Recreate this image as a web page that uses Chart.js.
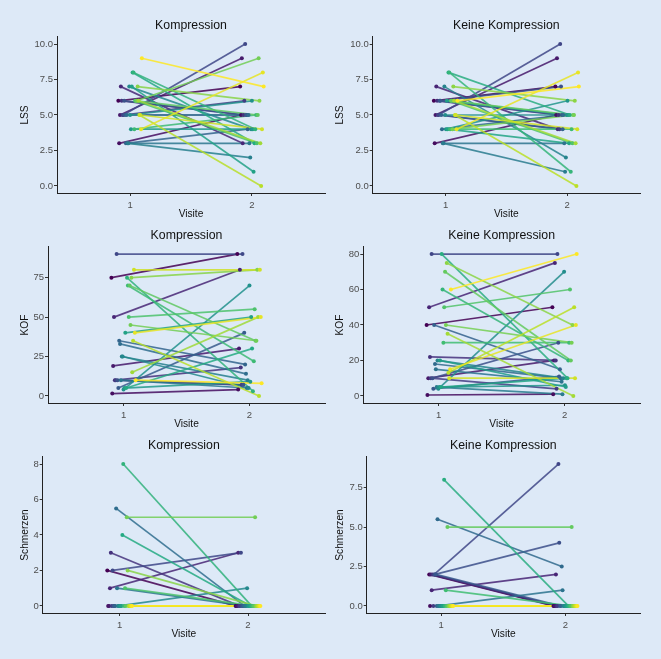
<!DOCTYPE html>
<html>
<head>
<meta charset="utf-8">
<script src="https://cdn.jsdelivr.net/npm/chart.js@4.4.1/dist/chart.umd.min.js"></script>
<style>
  html, body { margin: 0; padding: 0; background: #dde9f7; }
  #wrap { position: relative; width: 661px; height: 659px; overflow: hidden; }
  canvas { position: absolute; }
</style>
</head>
<body>
<div id="wrap">
  <canvas id="c1" width="330" height="220" style="left:0;top:0"></canvas>
  <canvas id="c2" width="331" height="220" style="left:330px;top:0"></canvas>
  <canvas id="c3" width="330" height="220" style="left:0;top:210px"></canvas>
  <canvas id="c4" width="331" height="220" style="left:330px;top:210px"></canvas>
  <canvas id="c5" width="330" height="220" style="left:0;top:420px"></canvas>
  <canvas id="c6" width="331" height="220" style="left:330px;top:420px"></canvas>
</div>
<script>
// visits on the x axis
var visits = [1, 2];

// one entry per patient, ordered by patient id (colour / dodge order)
// Kompression group
var kompLSS1 = [6, 3, 5, 7, 6, 5, 5, 6, 5, 3, 5, 3, 3, 7, 5, 4, 7, 8, 8, 4, 6, 6, 6, 7, 6, 5, 5, 4, 9];
var kompLSS2 = [7, 5, 9, 3, 5, 6, 10, 5, 5, 4, 5, 3, 2, 4, 6, 4, 1, 3, 4, 5, 3, 5, 9, 6, 3, 0, 4, 8, 7];
var kompKOF1 = [75, 1.5, 19, 50, 10, 10, 90, 10, 5, 35, 33, 10, 25, 25, 4, 5, 40, 5, 75, 70, 50, 70, 45, 75, 15, 35, 80, 40, 10];
var kompKOF2 = [90, 4, 30, 80, 18, 7, 90, 7, 40, 20, 14, 5, 10, 5, 70, 9, 50, 30, 3, 22, 55, 35, 35, 80, 50, 0, 80, 50, 8];
var kompSchm1 = [2, 0, 0, 1, 3, 0, 2, 0, 0, 0, 5.5, 1, 0, 0, 0, 0, 0, 4, 8, 0, 1, 0, 5, 2, 0, 0, 0, 0, 0];
var kompSchm2 = [0, 0, 0, 3, 0, 0, 3, 0, 0, 0, 0, 0, 0, 1, 0, 0, 0, 0, 0, 0, 0, 0, 5, 0, 0, 0, 0, 0, 0];

// Keine Kompression group
var keineLSS1 = [6, 3, 5, 7, 6, 5, 5, 6, 6, 5, 4, 3, 3, 7, 5, 4, 6, 4, 8, 8, 4, 6, 6, 4, 7, 6, 5, 5, 4, 6];
var keineLSS2 = [7, 5, 9, 4, 5, 4, 10, 7, 5, 4, 5, 3, 1, 2, 5, 6, 5, 3, 5, 1, 4, 3, 5, 5, 6, 3, 0, 4, 8, 7];
var keineKOF1 = [40, 0.5, 10, 50, 22, 10, 80, 10, 4, 40, 18, 15, 5, 20, 4, 5, 20, 5, 80, 60, 30, 50, 70, 40, 75, 35, 13, 10, 15, 60];
var keineKOF2 = [50, 1, 20, 75, 20, 4, 80, 30, 11, 15, 10, 8, 1, 10, 70, 6, 5, 10, 10, 20, 30, 60, 20, 30, 40, 0, 50, 10, 40, 80];
var keineSchm1 = [2, 0, 2, 1, 2, 0, 2, 2, 2, 0, 5.5, 0, 0, 0, 0, 0, 0, 0, 8, 0, 1, 0, 5, 0, 0, 0, 0, 0, 0, 0];
var keineSchm2 = [0, 0, 0, 2, 0, 0, 9, 4, 0, 0, 2.5, 1, 0, 0, 0, 0, 0, 0, 0, 0, 0, 0, 5, 0, 0, 0, 0, 0, 0, 0];

// tick labels
var lssTicks = [0, 2.5, 5, 7.5, 10];
var kofTicksK = [0, 25, 50, 75];
var kofTicksN = [0, 20, 40, 60, 80];
var schmTicksK = [0, 2, 4, 6, 8];
var schmTicksN = [0, 2.5, 5, 7.5];

var viridisStops = ["#440154", "#482475", "#414487", "#355f8d", "#2a788e", "#21918c",
  "#22a884", "#44bf70", "#7ad151", "#bddf26", "#fde725"];

function hexRgb(h) {
  return [parseInt(h.substr(1, 2), 16), parseInt(h.substr(3, 2), 16), parseInt(h.substr(5, 2), 16)];
}
function viridis(t, alpha) {
  var s = t * 10, k = Math.min(9, Math.floor(s)), f = s - k;
  var a = hexRgb(viridisStops[k]), b = hexRgb(viridisStops[k + 1]);
  var c = a.map(function(v, j) { return Math.round(v + (b[j] - v) * f); });
  return "rgba(" + c[0] + "," + c[1] + "," + c[2] + "," + alpha + ")";
}
// ggplot-like position_dodge, width 0.2
function dodge(i, n) {
  return (i + 0.5) / n * 0.2 - 0.1;
}

Chart.defaults.font.family = "'Liberation Sans', Arial, sans-serif";
Chart.defaults.animation = false;

var panels = [
  { id: "c1", title: "Kompression", yTitle: "LSS", v1: kompLSS1, v2: kompLSS2, yMin: -0.5, yMax: 10.5, yTicks: lssTicks, dec: 1, axisW: 57, yTitlePad: 18.9, padRight: 5 },
  { id: "c2", title: "Keine Kompression", yTitle: "LSS", v1: keineLSS1, v2: keineLSS2, yMin: -0.5, yMax: 10.5, yTicks: lssTicks, dec: 1, axisW: 42.7, yTitlePad: 4.2, padRight: 21 },
  { id: "c3", title: "Kompression", yTitle: "KOF", v1: kompKOF1, v2: kompKOF2, yMin: -4.5, yMax: 94.5, yTicks: kofTicksK, dec: 0, axisW: 48, yTitlePad: 18.9, padRight: 5 },
  { id: "c4", title: "Keine Kompression", yTitle: "KOF", v1: keineKOF1, v2: keineKOF2, yMin: -4, yMax: 84, yTicks: kofTicksN, dec: 0, axisW: 33.3, yTitlePad: 4.2, padRight: 21 },
  { id: "c5", title: "Kompression", yTitle: "Schmerzen", v1: kompSchm1, v2: kompSchm2, yMin: -0.4, yMax: 8.4, yTicks: schmTicksK, dec: 0, axisW: 42.7, yTitlePad: 18.9, padRight: 5 },
  { id: "c6", title: "Keine Kompression", yTitle: "Schmerzen", v1: keineSchm1, v2: keineSchm2, yMin: -0.45, yMax: 9.45, yTicks: schmTicksN, dec: 1, axisW: 36.7, yTitlePad: 4.2, padRight: 21 }
];

function makePanel(p) {
  var n = p.v1.length;
  var datasets = [];
  var pts = [], ptColors = [];
  for (var i = 0; i < n; i++) {
    var off = dodge(i, n);
    var t = i / (n - 1);
    var a = { x: visits[0] + off, y: p.v1[i] };
    var b = { x: visits[1] + off, y: p.v2[i] };
    datasets.push({
      data: [a, b],
      showLine: true,
      borderColor: viridis(t, 0.85),
      borderWidth: 1.7,
      pointRadius: 0,
      order: 2 * n - i
    });
    pts.push(a, b);
    ptColors.push(viridis(t, 1), viridis(t, 1));
  }
  datasets.push({
    data: pts,
    showLine: false,
    pointRadius: 2,
    pointBackgroundColor: ptColors,
    pointBorderWidth: 0,
    order: 0
  });

  var axisGrid = { drawOnChartArea: false, drawTicks: true, tickLength: 3, color: "#333", lineWidth: 1 };
  var axisBorder = { display: true, color: "#222", width: 1 };

  new Chart(document.getElementById(p.id), {
    type: "scatter",
    data: { datasets: datasets },
    options: {
      responsive: false,
      devicePixelRatio: 1,
      events: [],
      layout: { padding: { left: 0, right: p.padRight, top: 0, bottom: 0 } },
      plugins: {
        legend: { display: false },
        tooltip: { enabled: false },
        title: {
          display: true,
          text: p.title,
          fullSize: false,
          color: "#111",
          font: { size: 12.3, weight: "normal" },
          padding: { top: 18, bottom: 4.2 }
        }
      },
      scales: {
        x: {
          type: "linear",
          min: 0.4,
          max: 2.6,
          afterBuildTicks: function(s) { s.ticks = visits.map(function(v) { return { value: v }; }); },
          afterFit: function(s) { s.height = 27; },
          grid: axisGrid,
          border: axisBorder,
          ticks: { color: "#4d4d4d", font: { size: 9.5 }, padding: 3.5, maxRotation: 0, autoSkip: false,
            callback: function(v) { return String(v); } },
          title: { display: true, text: "Visite", color: "#111", font: { size: 10.2 }, padding: { top: 0, bottom: 0 } }
        },
        y: {
          type: "linear",
          min: p.yMin,
          max: p.yMax,
          afterBuildTicks: function(s) { s.ticks = p.yTicks.map(function(v) { return { value: v }; }); },
          afterFit: function(s) { s.width = p.axisW; },
          grid: axisGrid,
          border: axisBorder,
          ticks: { color: "#4d4d4d", font: { size: 9.5 }, padding: 1, autoSkip: false,
            callback: function(v) { return Number(v).toFixed(p.dec); } },
          title: { display: true, text: p.yTitle, color: "#111", font: { size: 10.2 }, padding: { top: p.yTitlePad, bottom: 0 } }
        }
      }
    }
  });
}

panels.forEach(makePanel);
</script>
</body>
</html>
